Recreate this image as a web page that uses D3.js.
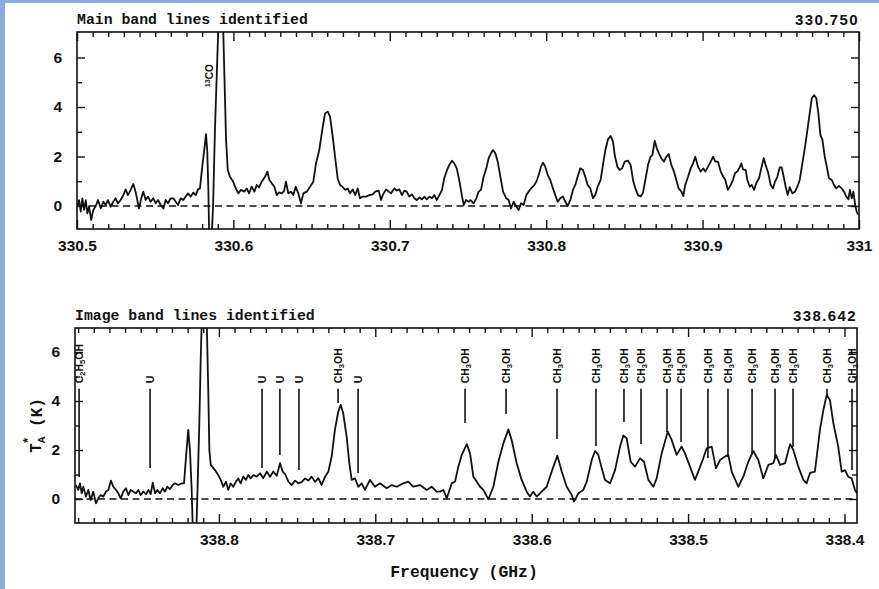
<!DOCTYPE html>
<html>
<head>
<meta charset="utf-8">
<script src="https://cdn.jsdelivr.net/npm/d3@7"></script>
<style>
  body { margin: 0; background: #fff; }
  svg { display: block; }
</style>
</head>
<body>
<svg id="chart"></svg>
<script>
// main band spectrum, 13CO region, [GHz, K]
const mainLow = [
  [330.5002, -0.03], [330.5013, 0.24], [330.5024, -0.23], [330.5034, 0.31], [330.5045, -0.16],
  [330.5056, 0.24], [330.5066, -0.30], [330.5077, -0.03], [330.5091, -0.57], [330.5104, -0.16],
  [330.5120, 0.00], [330.5134, 0.24], [330.5152, -0.10], [330.5168, 0.17], [330.5184, 0.04],
  [330.5198, 0.24], [330.5215, -0.03], [330.5232, 0.17], [330.5247, 0.31], [330.5262, 0.11],
  [330.5279, 0.24], [330.5296, 0.44], [330.5311, 0.67], [330.5326, 0.44], [330.5343, 0.65],
  [330.5360, 0.89], [330.5377, 0.51], [330.5396, -0.10], [330.5411, 0.31], [330.5424, 0.58],
  [330.5439, 0.24], [330.5454, 0.38], [330.5471, 0.17], [330.5488, 0.31], [330.5503, 0.11],
  [330.5518, 0.24], [330.5535, 0.04], [330.5552, -0.10], [330.5567, 0.24], [330.5582, 0.11],
  [330.5599, 0.31], [330.5616, 0.31], [330.5631, 0.17], [330.5646, 0.04], [330.5663, 0.31],
  [330.5680, 0.24], [330.5695, 0.38], [330.5710, 0.51], [330.5727, 0.38], [330.5744, 0.54],
  [330.5759, 0.44], [330.5774, 0.67], [330.5786, 0.71], [330.5801, 1.59], [330.5816, 2.40],
  [330.5825, 2.90], [330.5833, 2.20], [330.5840, 0.60], [330.5847, -1.80], [330.5857, -1.80],
  [330.5870, 0.00], [330.5882, 3.07], [330.5903, 7.10], [330.5914, 9.00], [330.5925, 9.00],
  [330.5935, 7.10], [330.5946, 4.40], [330.5953, 2.67], [330.5964, 1.45], [330.5978, 1.18],
  [330.5999, 0.98], [330.6010, 0.78], [330.6031, 0.51], [330.6049, 0.65], [330.6070, 0.58],
  [330.6085, 0.71], [330.6100, 0.51], [330.6117, 0.78], [330.6134, 0.58], [330.6149, 0.85],
  [330.6164, 0.75], [330.6181, 0.98], [330.6202, 1.18], [330.6217, 1.39], [330.6230, 1.05],
  [330.6245, 0.92], [330.6262, 0.78], [330.6277, 0.44], [330.6292, 0.55], [330.6309, 0.51],
  [330.6324, 0.60], [330.6336, 0.98], [330.6351, 0.51], [330.6368, 0.58], [330.6383, 0.44],
  [330.6398, 0.78], [330.6415, 0.51], [330.6432, 0.11], [330.6447, 0.51], [330.6469, 0.58],
  [330.6490, 0.78], [330.6511, 0.98], [330.6528, 1.72], [330.6549, 2.26], [330.6568, 3.07],
  [330.6586, 3.75], [330.6603, 3.81], [330.6618, 3.61], [330.6635, 2.80], [330.6650, 1.99]
];

// main band spectrum, line forest, [GHz, K]
const mainHigh = [
  [330.6667, 1.10], [330.6682, 0.85], [330.6699, 0.76], [330.6716, 0.65], [330.6731, 0.71],
  [330.6746, 0.51], [330.6763, 0.67], [330.6779, 0.44], [330.6795, 0.71], [330.6809, 0.31],
  [330.6827, 0.38], [330.6848, 0.38], [330.6869, 0.44], [330.6891, 0.47], [330.6907, 0.58],
  [330.6929, 0.62], [330.6944, 0.24], [330.6958, 0.48], [330.6976, 0.67], [330.6993, 0.58],
  [330.7008, 0.51], [330.7029, 0.71], [330.7044, 0.62], [330.7061, 0.67], [330.7078, 0.44],
  [330.7093, 0.62], [330.7108, 0.58], [330.7125, 0.38], [330.7142, 0.47], [330.7157, 0.31],
  [330.7172, 0.24], [330.7189, 0.34], [330.7206, 0.27], [330.7221, 0.38], [330.7236, 0.27],
  [330.7253, 0.38], [330.7270, 0.31], [330.7285, 0.44], [330.7300, 0.24], [330.7317, 0.44],
  [330.7334, 0.65], [330.7348, 1.12], [330.7366, 1.45], [330.7380, 1.66], [330.7398, 1.83],
  [330.7412, 1.72], [330.7428, 1.52], [330.7444, 1.05], [330.7462, 0.38], [330.7473, 0.04],
  [330.7487, 0.24], [330.7504, 0.17], [330.7515, 0.24], [330.7536, 0.11], [330.7553, 0.31],
  [330.7568, 0.58], [330.7583, 0.65], [330.7600, 1.18], [330.7617, 1.52], [330.7632, 1.93],
  [330.7647, 2.13], [330.7660, 2.26], [330.7675, 2.13], [330.7690, 1.79], [330.7707, 1.18],
  [330.7724, 0.58], [330.7745, 0.31], [330.7760, 0.24], [330.7775, -0.10], [330.7792, 0.17],
  [330.7809, -0.03], [330.7824, -0.16], [330.7839, 0.11], [330.7856, 0.04], [330.7873, 0.44],
  [330.7888, 0.58], [330.7903, 0.71], [330.7920, 0.81], [330.7937, 0.98], [330.7952, 1.25],
  [330.7967, 1.59], [330.7980, 1.75], [330.7994, 1.59], [330.8010, 1.25], [330.8026, 1.05],
  [330.8043, 0.71], [330.8058, 0.44], [330.8074, 0.17], [330.8090, 0.31], [330.8107, 0.38],
  [330.8122, 0.17], [330.8137, 0.00], [330.8154, 0.24], [330.8171, 0.65], [330.8186, 0.85],
  [330.8201, 1.18], [330.8218, 1.52], [330.8235, 1.45], [330.8250, 1.18], [330.8265, 0.85],
  [330.8282, 0.71], [330.8299, 0.31], [330.8314, 0.44], [330.8329, 0.78], [330.8348, 1.05],
  [330.8363, 1.66], [330.8378, 2.26], [330.8395, 2.69], [330.8412, 2.83], [330.8427, 2.60],
  [330.8438, 2.06], [330.8455, 1.59], [330.8470, 1.45], [330.8485, 1.52], [330.8502, 1.79],
  [330.8523, 1.83], [330.8540, 1.66], [330.8555, 1.05], [330.8570, 0.71], [330.8587, 0.44],
  [330.8604, 0.38], [330.8619, 0.54], [330.8634, 1.05], [330.8651, 1.66], [330.8666, 1.97],
  [330.8679, 2.06], [330.8694, 2.64], [330.8707, 2.33], [330.8721, 2.13], [330.8736, 1.93],
  [330.8753, 1.79], [330.8768, 1.99], [330.8783, 2.10], [330.8800, 1.66], [330.8817, 1.39],
  [330.8832, 1.05], [330.8847, 0.71], [330.8864, 0.58], [330.8877, 0.40], [330.8889, 0.85],
  [330.8907, 1.18], [330.8924, 1.52], [330.8939, 1.72], [330.8953, 1.99], [330.8971, 1.59],
  [330.8988, 1.39], [330.9005, 1.52], [330.9017, 1.39], [330.9035, 1.59], [330.9052, 1.79],
  [330.9067, 1.99], [330.9081, 1.79], [330.9098, 1.79], [330.9116, 1.39], [330.9130, 1.21],
  [330.9145, 1.05], [330.9162, 0.65], [330.9180, 0.85], [330.9194, 1.05], [330.9207, 1.32],
  [330.9222, 1.39], [330.9237, 1.56], [330.9248, 1.72], [330.9258, 1.48], [330.9276, 1.45],
  [330.9286, 1.05], [330.9301, 0.78], [330.9314, 0.85], [330.9329, 0.65], [330.9343, 0.92],
  [330.9361, 1.12], [330.9375, 1.52], [330.9391, 1.93], [330.9403, 1.66], [330.9420, 1.32],
  [330.9435, 0.85], [330.9450, 0.71], [330.9463, 0.98], [330.9478, 1.18], [330.9493, 1.56],
  [330.9506, 1.56], [330.9516, 1.25], [330.9531, 0.78], [330.9544, 0.44], [330.9557, 0.76],
  [330.9574, 0.51], [330.9591, 0.58], [330.9606, 0.78], [330.9621, 1.05], [330.9638, 1.72],
  [330.9655, 2.40], [330.9670, 3.07], [330.9685, 3.75], [330.9698, 4.35], [330.9713, 4.48],
  [330.9727, 4.35], [330.9740, 3.75], [330.9753, 2.87], [330.9766, 2.67], [330.9781, 1.99],
  [330.9794, 1.59], [330.9808, 1.12], [330.9826, 1.05], [330.9840, 0.85], [330.9855, 0.71],
  [330.9872, 0.81], [330.9890, 0.71], [330.9904, 0.58], [330.9919, 0.38], [330.9932, 0.27],
  [330.9942, 0.65], [330.9953, 0.31], [330.9964, 0.58], [330.9974, 0.11], [330.9985, -0.23],
  [330.9994, -0.35]
];

// image band spectrum, 13CO region, [GHz, K]
const imageLow = [
  [338.8914, 0.57], [338.8899, 0.37], [338.8888, 0.64], [338.8877, 0.23], [338.8867, 0.50],
  [338.8850, 0.10], [338.8835, 0.37], [338.8820, -0.04], [338.8803, 0.30], [338.8786, -0.18],
  [338.8771, 0.03], [338.8756, 0.16], [338.8739, 0.10], [338.8722, 0.30], [338.8707, 0.37],
  [338.8690, 0.75], [338.8675, 0.50], [338.8658, 0.37], [338.8643, 0.23], [338.8628, 0.03],
  [338.8611, 0.30], [338.8594, 0.44], [338.8579, 0.16], [338.8564, 0.37], [338.8547, 0.30],
  [338.8530, 0.23], [338.8515, 0.37], [338.8500, 0.16], [338.8483, 0.30], [338.8466, 0.20],
  [338.8451, 0.37], [338.8436, 0.20], [338.8423, 0.67], [338.8408, 0.23], [338.8394, 0.37],
  [338.8377, 0.23], [338.8359, 0.44], [338.8345, 0.30], [338.8330, 0.50], [338.8313, 0.40],
  [338.8295, 0.57], [338.8281, 0.64], [338.8260, 0.57], [338.8238, 0.64], [338.8223, 0.64],
  [338.8210, 1.73], [338.8196, 2.82], [338.8185, 2.00], [338.8174, 0.37], [338.8167, -1.20],
  [338.8145, -1.50], [338.8138, 0.10], [338.8125, 3.09], [338.8116, 5.80], [338.8104, 8.50],
  [338.8082, 8.50], [338.8068, 4.45], [338.8061, 2.00], [338.8052, 1.39], [338.8025, 1.18],
  [338.8004, 0.98], [338.7988, 0.78], [338.7972, 0.50], [338.7955, 0.71], [338.7940, 0.37],
  [338.7925, 0.64], [338.7908, 0.50], [338.7891, 0.71], [338.7876, 0.84], [338.7861, 0.64],
  [338.7844, 0.91], [338.7827, 0.78], [338.7812, 0.98], [338.7797, 0.84], [338.7780, 0.98],
  [338.7758, 0.91], [338.7737, 1.05], [338.7716, 0.85], [338.7694, 1.12], [338.7673, 0.91],
  [338.7652, 1.12], [338.7630, 0.95], [338.7609, 1.46], [338.7592, 1.12], [338.7575, 1.00],
  [338.7556, 0.71], [338.7534, 0.57], [338.7513, 0.75], [338.7492, 0.64], [338.7470, 0.70],
  [338.7449, 0.84], [338.7428, 0.75], [338.7407, 0.91], [338.7385, 0.70], [338.7364, 0.85],
  [338.7343, 0.57], [338.7321, 0.91], [338.7300, 1.12], [338.7279, 1.73], [338.7258, 2.82],
  [338.7237, 3.56], [338.7221, 3.84], [338.7205, 3.50], [338.7183, 2.54], [338.7166, 1.46]
];

// image band spectrum, line forest, [GHz, K]
const imageHigh = [
  [338.7151, 0.78], [338.7130, 0.84], [338.7109, 0.50], [338.7087, 0.64], [338.7066, 0.37],
  [338.7034, 0.78], [338.7002, 0.50], [338.6970, 0.64], [338.6927, 0.44], [338.6895, 0.57],
  [338.6863, 0.50], [338.6821, 0.64], [338.6789, 0.71], [338.6757, 0.50], [338.6714, 0.57],
  [338.6671, 0.37], [338.6639, 0.50], [338.6607, 0.30], [338.6586, 0.30], [338.6565, 0.37],
  [338.6543, 0.03], [338.6511, 0.64], [338.6490, 0.71], [338.6469, 1.32], [338.6447, 1.80],
  [338.6415, 2.24], [338.6394, 1.86], [338.6373, 0.91], [338.6352, 0.71], [338.6330, 0.50],
  [338.6309, 0.37], [338.6277, -0.01], [338.6245, 0.50], [338.6213, 1.52], [338.6181, 2.27],
  [338.6149, 2.84], [338.6128, 2.41], [338.6096, 1.46], [338.6064, 0.78], [338.6032, 0.30],
  [338.6011, 0.10], [338.5990, 0.30], [338.5968, 0.10], [338.5936, 0.30], [338.5904, 0.50],
  [338.5872, 1.12], [338.5836, 1.77], [338.5808, 1.12], [338.5776, 0.50], [338.5744, 0.16],
  [338.5729, -0.11], [338.5702, 0.23], [338.5670, 0.37], [338.5648, 0.71], [338.5616, 1.59],
  [338.5595, 1.96], [338.5574, 1.80], [338.5552, 1.25], [338.5531, 0.78], [338.5499, 0.64],
  [338.5467, 1.18], [338.5435, 2.14], [338.5414, 2.59], [338.5393, 2.48], [338.5367, 1.52],
  [338.5339, 1.32], [338.5307, 1.66], [338.5282, 1.52], [338.5254, 0.78], [338.5222, 0.50],
  [338.5201, 0.84], [338.5169, 1.86], [338.5130, 2.75], [338.5105, 2.41], [338.5073, 1.80],
  [338.5041, 2.14], [338.5020, 1.86], [338.4988, 1.32], [338.4956, 0.78], [338.4935, 1.12],
  [338.4903, 1.66], [338.4881, 2.07], [338.4849, 2.14], [338.4822, 1.25], [338.4796, 1.59],
  [338.4764, 1.73], [338.4743, 1.80], [338.4721, 1.12], [338.4679, 0.50], [338.4647, 0.91],
  [338.4615, 1.52], [338.4583, 1.96], [338.4551, 1.59], [338.4519, 0.84], [338.4487, 1.39],
  [338.4455, 1.46], [338.4438, 1.80], [338.4412, 1.39], [338.4380, 1.46], [338.4348, 2.24],
  [338.4327, 2.00], [338.4295, 1.32], [338.4263, 0.78], [338.4242, 0.64], [338.4220, 1.07],
  [338.4189, 1.12], [338.4157, 2.82], [338.4135, 3.63], [338.4114, 4.24], [338.4093, 4.04],
  [338.4071, 3.09], [338.4040, 2.14], [338.4018, 1.12], [338.3997, 1.18], [338.3976, 0.91],
  [338.3954, 0.84], [338.3933, 0.37], [338.3920, 0.23]
];

const mainTicks = [330.5, 330.6, 330.7, 330.8, 330.9, 331];
const imageTicks = [338.8, 338.7, 338.6, 338.5, 338.4];
const yTicks = [0, 2, 4, 6];

// identified lines in the image band
const lineFreqs = [338.8894, 338.844, 338.7724, 338.761, 338.7488, 338.7238, 338.711,
  338.6426, 338.6164, 338.5838, 338.5589, 338.541, 338.5301, 338.5135, 338.5045,
  338.4873, 338.4745, 338.4591, 338.4444, 338.4329, 338.4112, 338.3952];
const lineSpecies = ['C2H5OH', 'U', 'U', 'U', 'U', 'CH3OH', 'U',
  'CH3OH', 'CH3OH', 'CH3OH', 'CH3OH', 'CH3OH', 'CH3OH', 'CH3OH', 'CH3OH',
  'CH3OH', 'CH3OH', 'CH3OH', 'CH3OH', 'CH3OH', 'CH3OH', 'CH3OH'];
const lineEnds = [0.9, 1.27, 1.27, 1.8, 1.18, 3.92, 1.06,
  3.1, 3.47, 2.45, 2.16, 3.14, 2.24, 2.73, 2.33,
  1.67, 1.71, 1.88, 1.67, 2.12, 4.2, 1.18];

const width = 879;
const height = 589;
const ink = '#111';
const monoFont = "'Liberation Mono', 'DejaVu Sans Mono', monospace";
const sansFont = "'Liberation Sans', Arial, sans-serif";

let svg = d3.select('#chart').attr('width', width).attr('height', height);

svg.append('rect').attr('width', width).attr('height', height).attr('fill', '#8eaadb');
svg.append('rect').attr('x', 5).attr('y', 3)
  .attr('width', width - 5).attr('height', height - 3).attr('fill', '#fff');

// writes a formula, digits as sub- or superscripts
function chem(text, str, sup) {
  let parts = str.match(/\d+|\D+/g);
  let shifted = false;
  parts.forEach((part) => {
    let isNum = /\d/.test(part);
    let t = text.append('tspan').text(part);
    if (isNum) {
      t.attr('font-size', '0.72em').attr('dy', sup ? '-0.45em' : '0.35em');
      shifted = true;
    } else if (shifted) {
      t.attr('dy', sup ? '0.32em' : '-0.25em');
      shifted = false;
    }
  });
}

function drawPanel(p) {
  let g = svg.append('g');
  let [x0, x1] = p.x.range();
  let [yb, yt] = p.y.range();

  g.append('clipPath').attr('id', 'clip-' + p.id)
    .append('rect')
    .attr('x', Math.min(x0, x1)).attr('y', yt)
    .attr('width', Math.abs(x1 - x0)).attr('height', yb - yt);

  g.append('line')
    .attr('x1', x0).attr('x2', x1)
    .attr('y1', p.y(0)).attr('y2', p.y(0))
    .attr('stroke', ink).attr('stroke-width', 1.4)
    .attr('stroke-dasharray', '7,4.5');

  g.append('path')
    .datum(p.data)
    .attr('clip-path', `url(#clip-${p.id})`)
    .attr('fill', 'none')
    .attr('stroke', ink)
    .attr('stroke-width', 1.8)
    .attr('stroke-linejoin', 'round')
    .attr('d', d3.line().x((d) => p.x(d[0])).y((d) => p.y(d[1])));

  let minorX = d3.range(p.minorFrom, p.minorTo + 0.0001, 0.01)
    .map((v) => +v.toFixed(2))
    .filter((v) => !p.majorX.some((m) => Math.abs(m - v) < 1e-6));
  let minorY = d3.range(0, 7).filter((v) => !yTicks.includes(v));
  let fmt = (d) => String(+d.toFixed(1));

  let axes = g.append('g').attr('class', 'axes');
  axes.append('g').attr('transform', `translate(0,${yb})`)
    .call(d3.axisBottom(p.x).tickValues(minorX).tickSize(-5).tickFormat(''));
  axes.append('g').attr('transform', `translate(0,${yb})`)
    .attr('class', 'xlab')
    .call(d3.axisBottom(p.x).tickValues(p.majorX).tickSize(-9).tickPadding(11).tickFormat(fmt));
  axes.append('g').attr('transform', `translate(0,${yt})`)
    .call(d3.axisTop(p.x).tickValues(minorX).tickSize(-5).tickFormat(''));
  axes.append('g').attr('transform', `translate(0,${yt})`)
    .call(d3.axisTop(p.x).tickValues(p.majorX).tickSize(-9).tickFormat(''));
  axes.append('g').attr('transform', `translate(${x0},0)`)
    .call(d3.axisLeft(p.y).tickValues(minorY).tickSize(-5).tickFormat(''));
  axes.append('g').attr('transform', `translate(${x0},0)`)
    .attr('class', 'ylab')
    .call(d3.axisLeft(p.y).tickValues(yTicks).tickSize(-8).tickPadding(15).tickFormat(d3.format('d')));
  axes.append('g').attr('transform', `translate(${x1},0)`)
    .call(d3.axisRight(p.y).tickValues(minorY).tickSize(-5).tickFormat(''));
  axes.append('g').attr('transform', `translate(${x1},0)`)
    .call(d3.axisRight(p.y).tickValues(yTicks).tickSize(-8).tickFormat(''));

  axes.selectAll('.domain').remove();
  axes.selectAll('.tick line').attr('stroke', ink).attr('stroke-width', 1.4);
  axes.selectAll('.xlab text, .ylab text')
    .attr('fill', ink)
    .attr('font-family', sansFont)
    .attr('font-weight', 'bold')
    .attr('font-size', 15.5);

  g.append('rect')
    .attr('x', Math.min(x0, x1)).attr('y', yt)
    .attr('width', Math.abs(x1 - x0)).attr('height', yb - yt)
    .attr('fill', 'none').attr('stroke', ink).attr('stroke-width', 1.6);

  g.append('text')
    .attr('x', Math.min(x0, x1)).attr('y', yt - 8)
    .attr('font-family', monoFont).attr('font-weight', 'bold').attr('font-size', 14.8)
    .attr('fill', ink)
    .text(p.title);

  g.append('text')
    .attr('x', Math.max(x0, x1)).attr('y', yt - 7)
    .attr('text-anchor', 'end')
    .attr('font-family', sansFont).attr('font-weight', 'bold').attr('font-size', 15)
    .attr('letter-spacing', 1.4)
    .attr('fill', ink)
    .text(p.corner);

  return g;
}

// main band panel
let xMain = d3.scaleLinear().domain([330.5, 331]).range([77, 859]);
let yMain = d3.scaleLinear().domain([-0.93, 7.03]).range([229, 32]);

let mainPanel = drawPanel({
  id: 'main', x: xMain, y: yMain,
  data: mainLow.concat(mainHigh),
  majorX: mainTicks, minorFrom: 330.5, minorTo: 331,
  title: 'Main band lines identified', corner: '330.750'
});

let coLabel = mainPanel.append('text')
  .attr('transform', `translate(${xMain(330.587)},${yMain(4.8)}) rotate(-90)`)
  .attr('dy', '0.35em')
  .attr('font-family', sansFont).attr('font-weight', 'bold').attr('font-size', 10)
  .attr('fill', ink);
chem(coLabel, '13CO', true);

// image band panel (frequency runs backwards)
let xImage = d3.scaleLinear().domain([338.892, 338.392]).range([75, 857]);
let yImage = d3.scaleLinear().domain([-0.98, 6.98]).range([523, 328]);

let imagePanel = drawPanel({
  id: 'image', x: xImage, y: yImage,
  data: imageLow.concat(imageHigh),
  majorX: imageTicks, minorFrom: 338.4, minorTo: 338.89,
  title: 'Image band lines identified', corner: '338.642'
});

let labels = imagePanel.append('g')
  .selectAll('g')
  .data(lineFreqs.map((f, i) => ({ freq: f, species: lineSpecies[i], end: lineEnds[i] })))
  .join('g');

labels.append('line')
  .attr('x1', (d) => xImage(d.freq)).attr('x2', (d) => xImage(d.freq))
  .attr('y1', yImage(4.5)).attr('y2', (d) => yImage(d.end))
  .attr('stroke', ink).attr('stroke-width', 1.6);

labels.append('text')
  .attr('transform', (d) => `translate(${xImage(d.freq)},${yImage(4.72)}) rotate(-90)`)
  .attr('dy', '0.35em')
  .attr('font-family', sansFont).attr('font-weight', 'bold').attr('font-size', 10.5)
  .attr('fill', ink)
  .each(function (d) { chem(d3.select(this), d.species, false); });

// axis titles
svg.append('text')
  .attr('x', 464).attr('y', 577)
  .attr('text-anchor', 'middle')
  .attr('font-family', monoFont).attr('font-weight', 'bold').attr('font-size', 16.4)
  .attr('fill', ink)
  .text('Frequency (GHz)');

let yTitle = svg.append('text')
  .attr('transform', `translate(35,${yImage(3)}) rotate(-90)`)
  .attr('text-anchor', 'middle')
  .attr('dy', '0.35em')
  .attr('font-family', monoFont).attr('font-weight', 'bold').attr('font-size', 16)
  .attr('fill', ink);
yTitle.append('tspan').text('T');
yTitle.append('tspan').attr('font-size', '0.7em').attr('dy', '0.35em').text('A');
yTitle.append('tspan').attr('font-size', '0.8em').attr('dx', '-0.6em').attr('dy', '-0.95em').text('*');
yTitle.append('tspan').attr('dy', '0.6em').text(' (K)');
</script>
</body>
</html>
